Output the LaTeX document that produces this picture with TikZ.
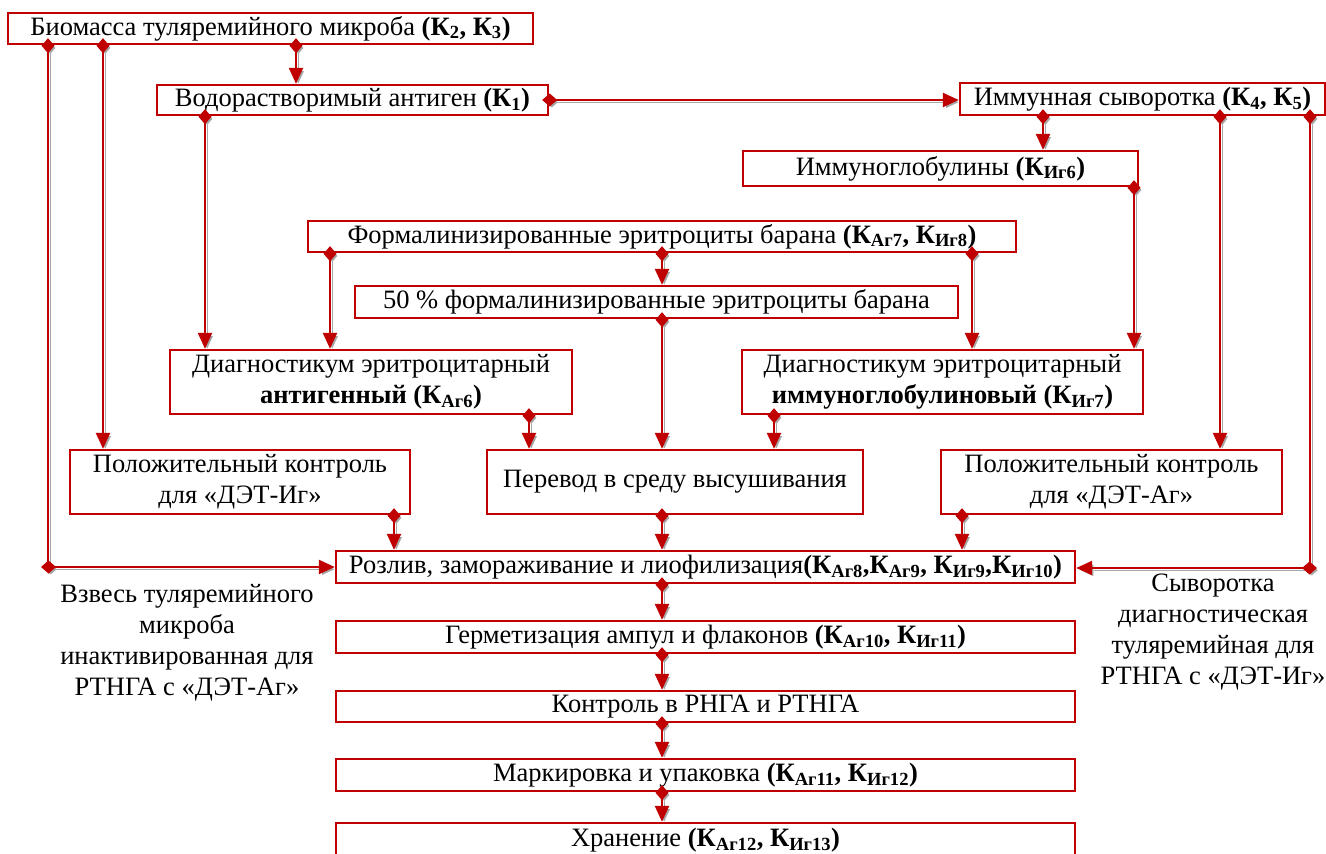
\documentclass[tikz,border=0pt]{standalone}
\usepackage{fontspec}
\setmainfont{Liberation Serif}
\newfontfamily\tnr{Liberation Serif}[FakeStretch=1.0]
\usetikzlibrary{arrows.meta}
\definecolor{dred}{HTML}{C00000}
\definecolor{shd}{HTML}{A6A6A6}
\newcommand{\sbs}[1]{\textsubscript{#1}}
\tikzset{
  box/.style={draw=dred, line width=2.4pt, fill=white, inner sep=0pt, align=center, font=\tnr\fontsize{26.5}{31}\selectfont},
  cbox/.style={box},
  lbl/.style={align=center, inner sep=0pt, font=\tnr\fontsize{26.5}{31}\selectfont},
  conn/.style={draw=dred, line width=2.4pt, shorten <=-7pt,
    {Diamond[length=15pt,width=13pt]}-{Triangle[length=16pt,width=14pt]},
    preaction={draw=shd, transform canvas={shift={(2.2,2.2)}}}},
  connd/.style={draw=dred, line width=2.4pt, shorten <=-7pt,
    {Diamond[length=15pt,width=13pt]}-,
    preaction={draw=shd, transform canvas={shift={(2.2,2.2)}}}},
}
\begin{document}
\begin{tikzpicture}[x=1pt,y=-1pt]
\useasboundingbox (0,0) rectangle (1326,854);
\clip (0,0) rectangle (1326,854);
% boxes
\node[box, minimum width=525, minimum height=31] (bio) at (270.5,28.5) {Биомасса туляремийного микроба \textbf{(К\sbs{2}, К\sbs{3})}};
\node[box, minimum width=391, minimum height=30] (vod) at (352.5,100) {Водорастворимый антиген \textbf{(К\sbs{1})}};
\node[cbox, minimum width=365, minimum height=32] (imm) at (1142.5,99) {Иммунная сыворотка \textbf{(К\sbs{4}, К\sbs{5})}};
\node[cbox, minimum width=395, minimum height=35] (igl) at (940.5,168.5) {Иммуноглобулины \textbf{(К\sbs{Иг6})}};
\node[cbox, minimum width=708, minimum height=31] (form) at (662,236.5) {Формалинизированные эритроциты барана \textbf{(К\sbs{Аг7}, К\sbs{Иг8})}};
\node[cbox, minimum width=603, minimum height=32] (f50) at (656.5,302) {50 \% формалинизированные эритроциты барана};
\node[cbox, minimum width=402, minimum height=64] (dag) at (371,382) {Диагностикум эритроцитарный\\\textbf{антигенный (К\sbs{Аг6})}};
\node[cbox, minimum width=401, minimum height=64] (dig) at (942.5,382) {Диагностикум эритроцитарный\\\textbf{иммуноглобулиновый (К\sbs{Иг7})}};
\node[cbox, minimum width=340, minimum height=64] (pkig) at (240,482) {Положительный контроль\\для «ДЭТ-Иг»};
\node[cbox, minimum width=376, minimum height=64] (perev) at (675,482) {Перевод в среду высушивания};
\node[cbox, minimum width=341, minimum height=64] (pkag) at (1111.5,482) {Положительный контроль\\для «ДЭТ-Аг»};
\node[cbox, minimum width=739, minimum height=32] (rozl) at (705.5,567) {Розлив, замораживание и лиофилизация\textbf{(К\sbs{Аг8},К\sbs{Аг9}, К\sbs{Иг9},К\sbs{Иг10})}};
\node[cbox, minimum width=739, minimum height=32] (germ) at (705.5,637) {Герметизация ампул и флаконов \textbf{(К\sbs{Аг10}, К\sbs{Иг11})}};
\node[cbox, minimum width=739, minimum height=31] (kontr) at (705.5,706.5) {Контроль в РНГА и РТНГА};
\node[cbox, minimum width=739, minimum height=32] (mark) at (705.5,775) {Маркировка и упаковка \textbf{(К\sbs{Аг11}, К\sbs{Иг12})}};
\node[cbox, minimum width=739, minimum height=34] (hran) at (705.5,840) {Хранение \textbf{(К\sbs{Аг12}, К\sbs{Иг13})}};
% labels
\node[lbl] (lvz) at (187,643) {Взвесь туляремийного\\микроба\\инактивированная для\\РТНГА с «ДЭТ-Аг»};
\node[lbl] (lsyv) at (1213,632) {Сыворотка\\диагностическая\\туляремийная для\\РТНГА с «ДЭТ-Иг»};
% column coordinates
\coordinate (c48) at (48,0);
\coordinate (c103) at (103,0);
\coordinate (c205) at (205,0);
\coordinate (c296) at (296,0);
\coordinate (c330) at (330,0);
\coordinate (c394) at (394,0);
\coordinate (c529) at (529,0);
\coordinate (c662) at (662,0);
\coordinate (c774) at (774,0);
\coordinate (c962) at (962,0);
\coordinate (c972) at (972,0);
\coordinate (c1043) at (1043,0);
\coordinate (c1134) at (1134,0);
\coordinate (c1220) at (1220,0);
\coordinate (c1310) at (1310,0);
\coordinate (cornL) at (48,567);
\coordinate (cornR) at (1310,568);
% connectors
\draw[conn] (bio.south -| c296) -- (vod.north -| c296);
\draw[conn] (bio.south -| c103) -- (pkig.north -| c103);
\draw[connd] (bio.south -| c48) -- (cornL);
\draw[conn] (cornL) -- (rozl.west |- cornL);
\draw[conn] (vod.east) -- (imm.west |- vod.east);
\draw[conn] (vod.south -| c205) -- (dag.north -| c205);
\draw[conn] (imm.south -| c1043) -- (igl.north -| c1043);
\draw[conn] (imm.south -| c1220) -- (pkag.north -| c1220);
\draw[connd] (imm.south -| c1310) -- (cornR);
\draw[conn] (cornR) -- (rozl.east |- cornR);
\draw[conn] (igl.south -| c1134) -- (dig.north -| c1134);
\draw[conn] (form.south -| c330) -- (dag.north -| c330);
\draw[conn] (form.south -| c662) -- (f50.north -| c662);
\draw[conn] (form.south -| c972) -- (dig.north -| c972);
\draw[conn] (f50.south -| c662) -- (perev.north -| c662);
\draw[conn] (dag.south -| c529) -- (perev.north -| c529);
\draw[conn] (dig.south -| c774) -- (perev.north -| c774);
\draw[conn] (pkig.south -| c394) -- (rozl.north -| c394);
\draw[conn] (perev.south -| c662) -- (rozl.north -| c662);
\draw[conn] (pkag.south -| c962) -- (rozl.north -| c962);
\draw[conn] (rozl.south -| c662) -- (germ.north -| c662);
\draw[conn] (germ.south -| c662) -- (kontr.north -| c662);
\draw[conn] (kontr.south -| c662) -- (mark.north -| c662);
\draw[conn] (mark.south -| c662) -- (hran.north -| c662);
\end{tikzpicture}
\end{document}
